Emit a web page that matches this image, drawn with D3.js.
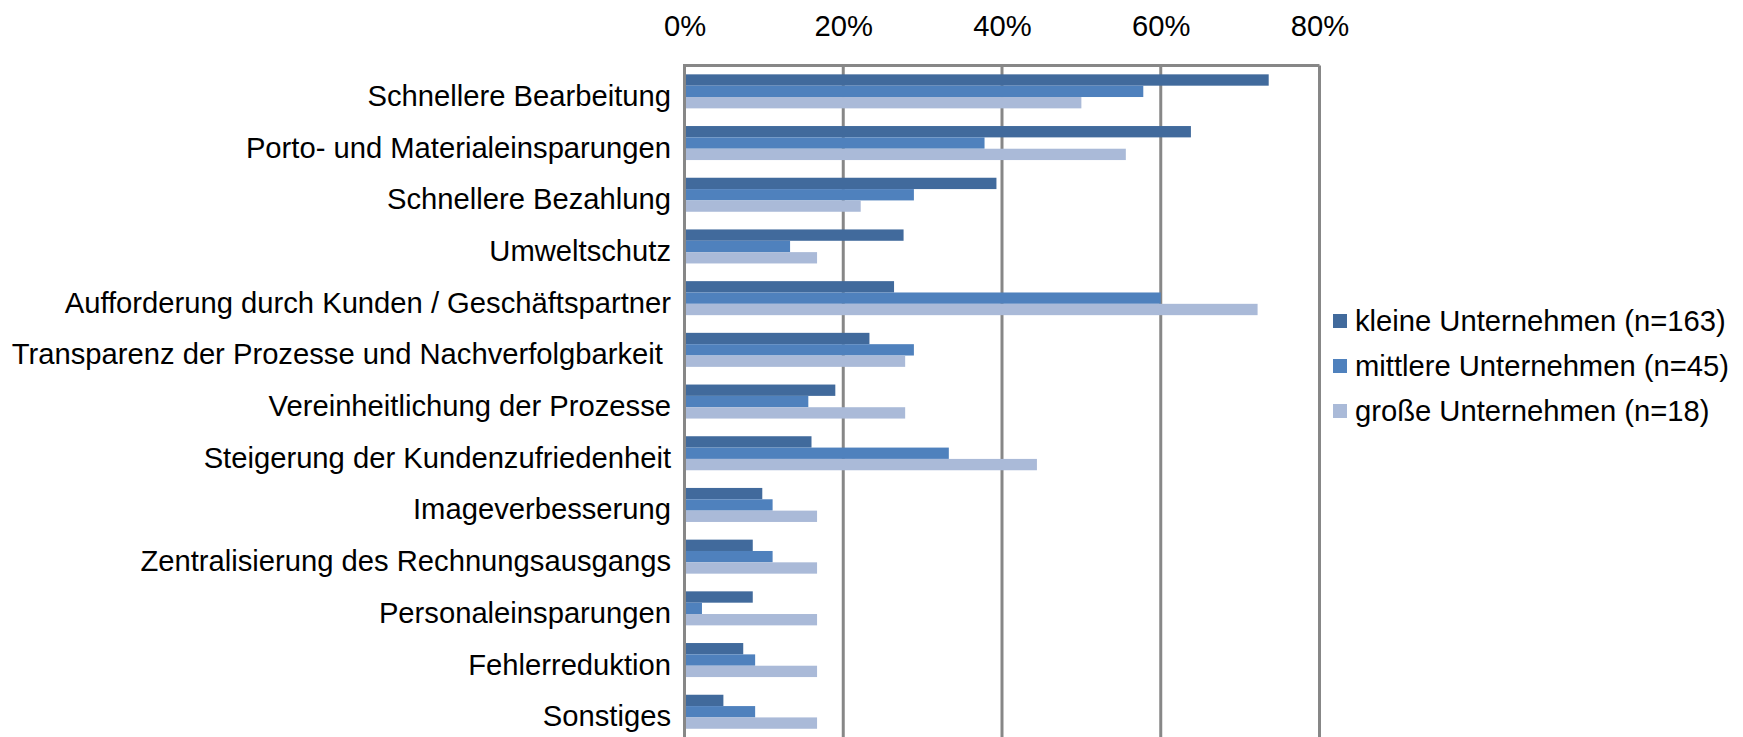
<!DOCTYPE html>
<html>
<head>
<meta charset="utf-8">
<script src="https://cdnjs.cloudflare.com/ajax/libs/d3/7.8.5/d3.min.js"></script>
<style>
    body { margin: 0; background: #fff; }
    svg { display: block; }
    text { font-family: "Liberation Sans", Arial, sans-serif; fill: #000; }
</style>
</head>
<body>
<svg id="chart" width="1743" height="737"></svg>
<script>
var categories = [
    "Schnellere Bearbeitung",
    "Porto- und Materialeinsparungen",
    "Schnellere Bezahlung",
    "Umweltschutz",
    "Aufforderung durch Kunden / Geschäftspartner",
    "Transparenz der Prozesse und Nachverfolgbarkeit\u00a0",
    "Vereinheitlichung der Prozesse",
    "Steigerung der Kundenzufriedenheit",
    "Imageverbesserung",
    "Zentralisierung des Rechnungsausgangs",
    "Personaleinsparungen",
    "Fehlerreduktion",
    "Sonstiges"
];

var seriesNames = ["kleine Unternehmen (n=163)", "mittlere Unternehmen (n=45)", "große Unternehmen (n=18)"];
var seriesColors = ["#416A9C", "#4F81BD", "#AABAD8"];

// values in percent
var kleine   = [73.6, 63.8, 39.3, 27.6, 26.4, 23.3, 19.0, 16.0, 9.8, 8.6, 8.6, 7.4, 4.9];
var mittlere = [57.8, 37.8, 28.9, 13.3, 60.0, 28.9, 15.6, 33.3, 11.1, 11.1, 2.2, 8.9, 8.9];
var grosse   = [50.0, 55.6, 22.2, 16.7, 72.2, 27.8, 27.8, 44.4, 16.7, 16.7, 16.7, 16.7, 16.7];

var tickValues = [0, 20, 40, 60, 80];

var svg = d3.select("#chart"),
    gridColor = "#878787",
    plotLeft = 684.5,
    plotRight = 1319.5,
    plotTop = 65.5,
    step = 51.7,
    fontSize = 29.2;

var x = d3.scaleLinear().domain([0, 80]).range([plotLeft, plotRight]);

var y = d3.scaleBand()
    .domain(categories)
    .range([plotTop, plotTop + step * categories.length])
    .paddingInner(0.342)
    .paddingOuter(0.171);

var ySeries = d3.scaleBand()
    .domain(d3.range(seriesNames.length))
    .range([0, y.bandwidth()]);

var series = [kleine, mittlere, grosse];

// gridlines
svg.append("g")
    .selectAll("line")
    .data(tickValues)
    .enter().append("line")
    .attr("x1", function(d) { return x(d); })
    .attr("x2", function(d) { return x(d); })
    .attr("y1", plotTop)
    .attr("y2", 737)
    .attr("stroke", gridColor)
    .attr("stroke-width", 3);

// top border of plot area
svg.append("line")
    .attr("x1", x(0))
    .attr("x2", x(80))
    .attr("y1", plotTop)
    .attr("y2", plotTop)
    .attr("stroke", gridColor)
    .attr("stroke-width", 3);

// bars
var groups = svg.append("g")
    .selectAll("g")
    .data(categories)
    .enter().append("g")
    .attr("transform", function(d) { return "translate(0," + y(d) + ")"; });

groups.selectAll("rect")
    .data(function(d, i) { return series.map(function(s) { return s[i]; }); })
    .enter().append("rect")
    .attr("x", x(0) + 1.5)
    .attr("y", function(d, j) { return ySeries(j); })
    .attr("width", function(d) { return Math.max(0, x(d) - x(0) - 1.5); })
    .attr("height", ySeries.bandwidth())
    .attr("fill", function(d, j) { return seriesColors[j]; });

// top axis labels
var xAxis = d3.axisTop(x)
    .tickValues(tickValues)
    .tickSize(0)
    .tickPadding(0)
    .tickFormat(function(d) { return d + "%"; });

var gx = svg.append("g")
    .attr("transform", "translate(0,36)")
    .call(xAxis);
gx.select(".domain").remove();
gx.selectAll("text")
    .attr("dy", 0)
    .attr("font-size", fontSize)
    .style("font-family", "'Liberation Sans', Arial, sans-serif")
    .attr("fill", "#000");

// category labels
var yAxis = d3.axisLeft(y).tickSize(0).tickPadding(0);
var gy = svg.append("g")
    .attr("transform", "translate(671,0)")
    .call(yAxis);
gy.select(".domain").remove();
gy.selectAll("text")
    .attr("dy", 14.5)
    .attr("y", 0)
    .attr("font-size", fontSize)
    .style("font-family", "'Liberation Sans', Arial, sans-serif")
    .style("white-space", "pre")
    .attr("fill", "#000");

// left axis line
svg.append("line")
    .attr("x1", x(0))
    .attr("x2", x(0))
    .attr("y1", plotTop - 1.5)
    .attr("y2", 737)
    .attr("stroke", gridColor)
    .attr("stroke-width", 3);

// legend
var legend = svg.append("g")
    .selectAll("g")
    .data(seriesNames)
    .enter().append("g")
    .attr("transform", function(d, i) { return "translate(1333," + (321 + i * 45) + ")"; });

legend.append("rect")
    .attr("x", 0)
    .attr("y", -7)
    .attr("width", 14)
    .attr("height", 14)
    .attr("fill", function(d, i) { return seriesColors[i]; });

legend.append("text")
    .attr("x", 22)
    .attr("y", 10)
    .attr("font-size", fontSize)
    .text(function(d) { return d; });
</script>
</body>
</html>
